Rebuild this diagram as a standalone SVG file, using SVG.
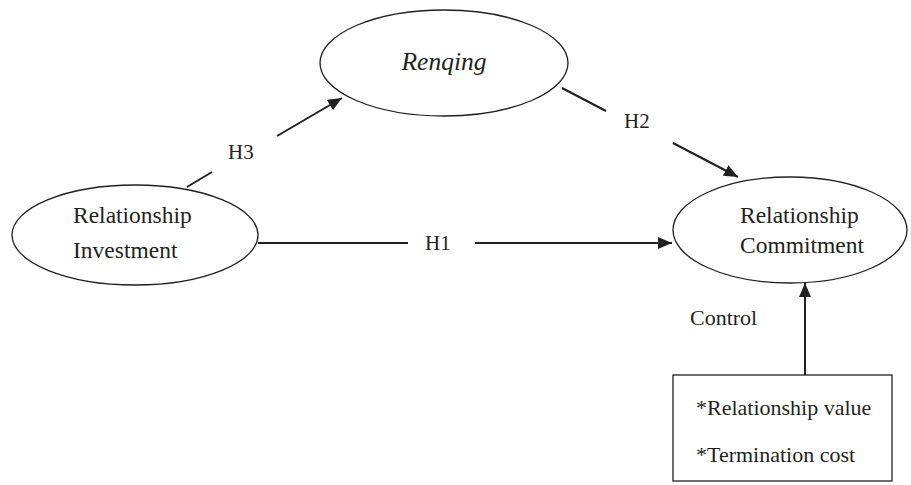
<svg xmlns="http://www.w3.org/2000/svg" width="911" height="485" viewBox="0 0 911 485">
<style>
.shape{fill:#fff;stroke:#231f20;stroke-width:1.3}
.ln{stroke:#231f20;stroke-width:2;fill:none}
.t{font-family:"Liberation Serif","Times New Roman",serif;fill:#231f20}
.big{font-size:23.5px}
.mid{font-size:22px}
.h{font-size:21px}
</style>
<defs>
<marker id="ah" markerWidth="10" markerHeight="8" refX="10" refY="4" orient="auto" markerUnits="userSpaceOnUse" viewBox="0 0 10 8">
<path d="M0,0 L10,4 L0,8 z" fill="#231f20"/>
</marker>
<marker id="ahb" markerWidth="14" markerHeight="12" refX="14" refY="6" orient="auto" markerUnits="userSpaceOnUse" viewBox="0 0 14 12">
<path d="M0,0 L14,6 L0,12 z" fill="#231f20"/>
</marker>
</defs>
<g id="connectors">
<line class="ln" x1="187" y1="187" x2="212" y2="172"/>
<line class="ln" x1="277" y1="136" x2="342" y2="98" marker-end="url(#ahb)"/>
<text class="t h" x="228" y="159">H3</text>
<line class="ln" x1="562" y1="88" x2="606" y2="111"/>
<line class="ln" x1="673" y1="143" x2="738" y2="177" marker-end="url(#ahb)"/>
<text class="t h" x="624" y="128">H2</text>
<line class="ln" x1="258" y1="243" x2="408" y2="243"/>
<line class="ln" x1="475" y1="243" x2="672" y2="243" marker-end="url(#ahb)"/>
<text class="t h" x="425" y="250">H1</text>
<line class="ln" x1="805" y1="375" x2="805" y2="283" marker-end="url(#ahb)"/>
<text class="t mid" x="690" y="325">Control</text>
</g>
<g id="renqing">
<ellipse class="shape" cx="444" cy="63" rx="124" ry="53"/>
<text class="t" x="444" y="70" font-size="25.5" font-style="italic" text-anchor="middle">Renqing</text>
</g>
<g id="investment">
<ellipse class="shape" cx="135" cy="235" rx="123" ry="50"/>
<text class="t big" x="73" y="223">Relationship</text>
<text class="t big" x="73" y="258">Investment</text>
</g>
<g id="commitment">
<ellipse class="shape" cx="790" cy="230" rx="117" ry="53"/>
<text class="t big" x="740" y="223">Relationship</text>
<text class="t big" x="740" y="253">Commitment</text>
</g>
<g id="control">
<rect class="shape" x="673" y="375" width="219" height="106"/>
<text class="t mid" x="696" y="415">*Relationship value</text>
<text class="t mid" x="696" y="462">*Termination cost</text>
</g>
</svg>
